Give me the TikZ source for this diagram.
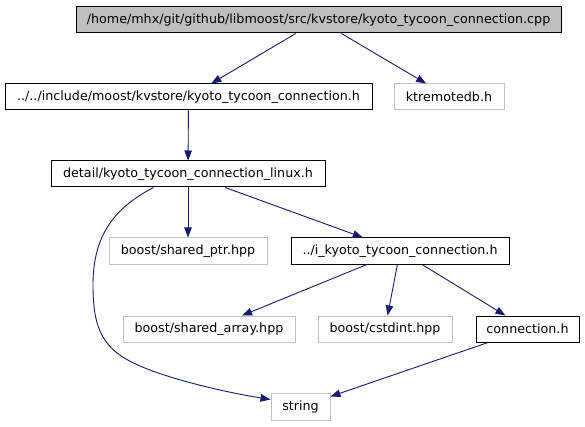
\documentclass[tikz,border=0pt]{standalone}
\usepackage{fontspec}
\setmainfont{DejaVu Sans}
\usetikzlibrary{arrows.meta,calc}
\definecolor{edgeblue}{HTML}{191970}
\definecolor{boxgray}{HTML}{BFBFBF}
\definecolor{extgray}{HTML}{C0C0C0}
\begin{document}
\begin{tikzpicture}[x=1pt,y=-1pt,
  every node/.style={font=\fontsize{12.7}{15}\selectfont, inner sep=0pt, minimum height=26pt, line width=1pt},
  docbox/.style={draw=black, fill=white},
  extbox/.style={draw=extgray, fill=white},
  edge/.style={draw=edgeblue, line width=0.9pt, -{Triangle[length=10pt,width=7.5pt]}}]
\useasboundingbox[fill=white] (0,0) rectangle (585,427);
\node[docbox, fill=boxgray, minimum width=485pt] (top) at (318.5,20) {/home/mhx/git/github/libmoost/src/kvstore/kyoto\_tycoon\_connection.cpp};
\node[docbox, minimum width=367pt] (n2) at (188.5,97) {../../include/moost/kvstore/kyoto\_tycoon\_connection.h};
\node[extbox, minimum width=110pt] (kt) at (449,97) {ktremotedb.h};
\node[docbox, minimum width=274pt] (n4) at (188,174) {detail/kyoto\_tycoon\_connection\_linux.h};
\node[extbox, minimum width=158pt] (sp) at (188,251) {boost/shared\_ptr.hpp};
\node[docbox, minimum width=218pt] (n6) at (400,251) {../i\_kyoto\_tycoon\_connection.h};
\node[extbox, minimum width=172pt] (sa) at (209,329) {boost/shared\_array.hpp};
\node[extbox, minimum width=134pt] (ci) at (385,329) {boost/cstdint.hpp};
\node[docbox, minimum width=103pt] (cn) at (527.5,329) {connection.h};
\node[extbox, minimum width=59pt, minimum height=27pt] (str) at (300.5,406.5) {string};

\draw[edge] (top) -- (n2);
\draw[edge] (top) -- (kt);
\draw[edge] (n2) -- (n4);
\draw[edge] (n4) -- (sp);
\draw[edge] (n4) -- (n6);
\draw[edge] (n6) -- (sa);
\draw[edge] (n6) -- (ci);
\draw[edge] (n6) -- (cn);
\draw[edge] (cn) -- ($(str.north east)+(0,4)$);
\draw[edge] ($(n4.south west)+(103,0)$) .. controls (110,210) and (93,240) .. (93,285)
  .. controls (93,330) and (103,350) .. (140,366)
  .. controls (175,381) and (230,393) .. ($(str.west)+(0,-7)$);
\end{tikzpicture}
\end{document}
